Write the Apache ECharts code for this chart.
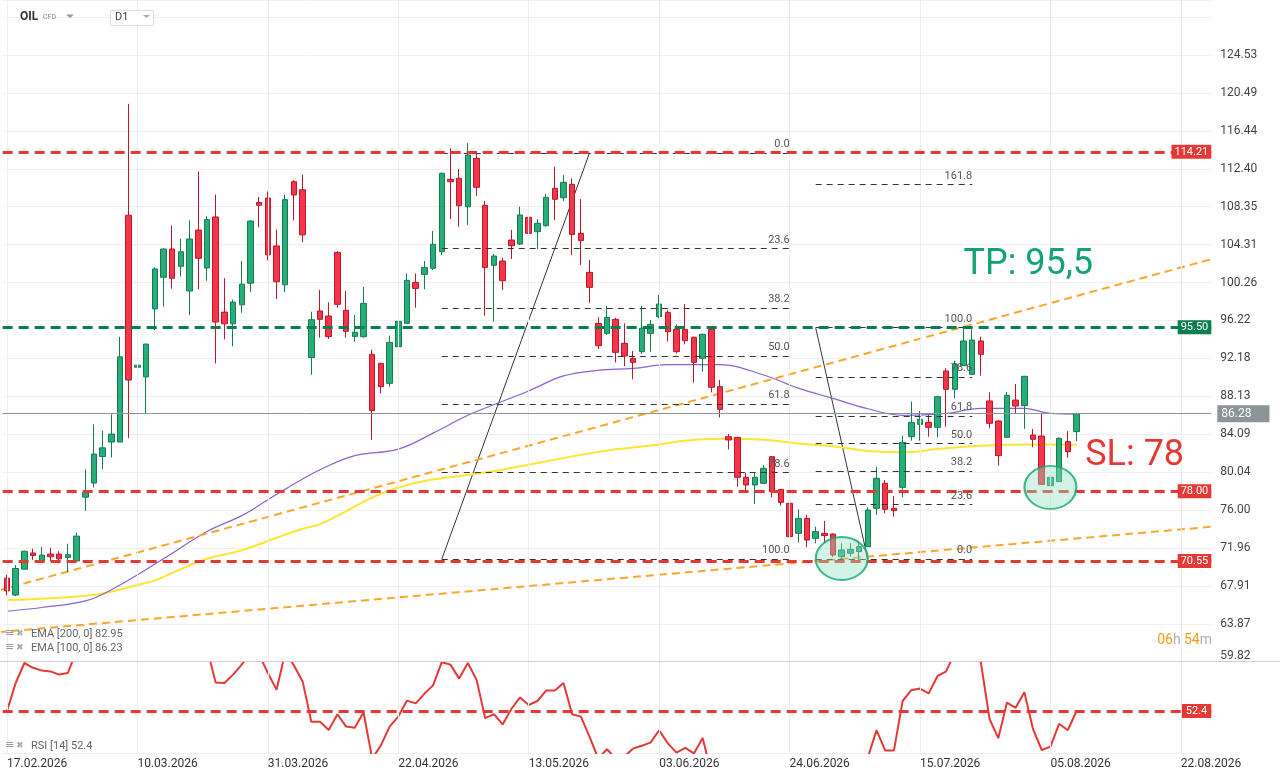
<!DOCTYPE html>
<html><head><meta charset="utf-8">
<script src="https://cdn.jsdelivr.net/npm/echarts@6/dist/echarts.min.js"></script>
<style>html,body{margin:0;padding:0;background:#fff;}#c{width:1280px;height:779px;}</style>
</head><body><div id="c"></div>
<script>
// ---------- DATA ----------
// candles: [open, close, low, high]
const ohlc = [
[68.73,67.37,66.89,69.10],[66.93,69.76,66.82,70.13],[69.69,71.60,69.69,71.67],[71.42,71.16,70.68,71.86],
[70.57,71.19,70.50,72.04],[71.30,71.01,70.57,71.97],[71.30,70.79,70.31,71.60],[70.94,71.23,69.39,72.41],
[70.57,73.22,70.50,73.58],[77.37,77.85,75.90,80.31],[78.88,81.97,78.40,85.13],[81.71,82.63,80.35,84.47],
[83.25,84.10,81.60,86.20],[83.25,92.34,83.25,94.47],[107.44,89.87,83.66,119.32],[91.23,91.45,81.23,95.02],
[90.20,93.70,86.31,93.70],[97.45,101.71,95.20,101.90],[100.83,103.84,97.70,103.90],[103.84,100.72,99.61,106.34],
[102.00,103.55,100.90,104.95],[99.36,104.91,96.78,106.89],[105.86,102.85,99.54,112.11],[101.82,106.97,100.46,107.34],
[107.26,96.05,91.64,109.65],[97.11,95.86,94.21,100.72],[95.86,98.18,93.47,98.44],[97.89,100.09,97.04,102.55],
[100.20,106.82,99.25,106.90],[108.80,108.51,106.16,109.39],[109.28,103.22,102.63,109.98],[104.17,100.35,98.51,105.90],
[100.02,109.10,99.25,109.65],[111.01,109.61,106.89,111.19],[110.16,105.35,104.58,111.78],[92.26,96.30,90.42,97.15],
[97.23,96.34,94.38,99.47],[96.69,94.49,94.24,98.15],[103.48,97.94,97.58,103.60],[97.30,95.06,94.38,99.36],
[94.52,94.95,93.96,96.80],[94.49,98.04,94.38,99.79],[92.60,86.60,83.47,93.07],[91.64,89.16,88.44,91.70],
[89.51,93.88,89.16,94.60],[93.42,96.12,91.40,96.69],[95.91,100.50,95.90,101.24],[100.28,99.64,97.58,101.24],
[101.14,101.88,99.54,102.56],[101.78,104.34,101.60,105.76],[103.55,111.91,103.20,112.00],[111.27,111.02,107.04,114.58],
[111.38,108.46,106.22,112.37],[108.35,113.87,106.40,115.14],[113.51,110.42,109.49,114.29],[108.50,101.88,96.73,108.96],
[102.10,103.09,96.09,103.31],[102.56,100.46,99.47,102.91],[104.80,104.19,102.77,105.87],[104.37,107.47,104.27,108.35],
[107.22,105.51,105.23,108.18],[105.69,106.58,103.84,107.04],[106.33,109.35,106.22,109.71],[110.31,109.14,106.93,112.62],
[109.31,110.95,108.96,111.73],[110.74,105.40,103.20,111.38],[105.51,104.73,102.13,109.17],[101.35,99.75,98.11,102.67],
[95.91,93.53,93.17,96.55],[94.84,96.55,94.67,97.76],[96.34,92.82,91.75,96.50],[93.78,92.43,91.36,95.91],
[92.18,91.75,89.94,92.96],[92.89,95.38,92.64,97.76],[94.84,95.80,92.89,96.27],[96.62,97.97,96.44,98.93],
[97.08,95.02,93.96,97.33],[95.27,92.89,92.71,95.80],[95.27,94.06,93.67,97.97],[94.42,91.75,89.58,94.50],
[92.18,94.74,90.76,94.80],[95.27,89.09,88.55,95.56],[89.16,86.74,85.88,89.87],[83.82,83.47,82.47,84.11],
[83.75,79.49,78.49,83.80],[79.49,78.67,77.96,79.98],[78.67,79.49,76.64,79.98],[78.85,80.45,78.78,80.80],
[81.69,77.96,77.35,81.76],[78.20,76.82,76.46,78.25],[76.71,73.16,73.10,76.89],[73.51,75.11,72.52,76.07],
[75.11,72.80,72.02,75.47],[72.98,73.69,72.45,74.22],[73.51,73.27,72.45,74.83],[73.44,71.20,71.00,73.50],
[71.02,71.73,70.31,72.45],[71.38,71.80,71.02,72.45],[71.56,72.09,70.67,72.60],[72.09,76.00,72.09,76.29],
[76.18,79.38,75.47,80.62],[78.85,76.07,75.65,79.20],[76.18,75.93,75.29,77.50],[78.42,83.22,77.35,83.93],
[83.82,85.35,83.40,87.56],[85.14,85.67,83.40,86.56],[85.35,84.82,83.82,86.13],[84.82,88.09,83.75,88.20],
[90.83,88.87,84.89,91.11],[88.87,91.54,87.91,91.90],[91.40,94.03,91.40,95.38],[90.47,94.13,90.47,95.27],
[94.03,92.61,90.33,94.49],[87.63,85.25,84.71,88.55],[85.49,81.80,80.73,85.60],[83.75,88.23,83.75,88.59],
[87.73,87.09,86.31,89.44],[87.13,90.26,84.64,90.30],[84.00,83.54,82.69,84.64],[83.89,78.74,78.74,86.31],
[78.60,79.49,78.24,80.87],[79.03,83.65,79.03,83.75],[83.29,82.22,81.58,84.43],[84.36,86.28,83.36,86.38]
];
const rsi = [
52.4,59.4,64.4,63.2,62.5,62.3,61.5,61.9,67.5,69,73,74,76,82,70,70,72,76,78,73,74,76,71,68,
59.55,59.4,61.5,64.0,67,66.5,61.9,57.7,67,63.8,59.8,49.7,49.7,47.65,51.6,48.5,48.2,52.1,40.5,43.8,
48.5,51.0,55.0,54.3,56.7,58.8,64.6,64.0,60.5,64.4,60.2,50.6,51.6,49.05,52.9,55.8,53.9,54.9,57.5,57.5,
59.4,51.6,51.0,45.95,40.5,42.85,40.5,41.0,43.0,43.7,44.5,47.6,44.3,42.0,43.2,41.8,45.65,37,35,32,
28,27,29,31,27,26,23,27,24,26,26,24,26,27,29,40.8,47.6,42.5,42.5,54.9,57.6,58.0,56.8,61.1,
62.3,67,68.5,68,64.5,50.4,45.6,54.5,53.2,57.1,47.85,42.65,43.5,49.2,47.6,52.4
];
const ema100 = [[0,65.2],[4,65.6],[9,66.3],[12,67.5],[18,70.8],[23,73.7],[27,75.4],[30,77.1],[34,79.3],[36,80.3],
[40,81.8],[45,82.5],[49,84.2],[53,86.1],[57,87.6],[60,88.7],[64,90.3],[68,90.9],[72,91.1],[76,91.5],[82,91.5],
[87,90.4],[91,89.0],[95,87.9],[99,86.8],[103,86.1],[108,86.3],[112,86.85],[117,86.85],[120,86.3],[123,86.23]];
const ema200 = [[0,66.4],[7,66.7],[11,67.1],[15,68.0],[17,68.5],[19,69.3],[23,70.8],[27,71.7],[30,72.7],[34,74.0],
[36,74.5],[45,78.4],[57,80.3],[68,82.2],[75,83.0],[78,83.4],[82,83.6],[87,83.5],[91,83.1],[95,82.8],[99,82.3],
[103,82.15],[107,82.5],[111,82.8],[115,82.95],[119,83.0],[123,82.95]];
const xTickLabels = ['17.02.2026','10.03.2026','31.03.2026','22.04.2026','13.05.2026','03.06.2026','24.06.2026','15.07.2026','05.08.2026','22.08.2026'];
const priceTicks = [59.82,63.87,67.91,71.96,76.00,80.04,84.09,88.13,92.18,96.22,100.26,104.31,108.35,112.40,116.44,120.49,124.53];
const levelValues = [114.21, 95.50, 78.00, 70.55];
const lastPrice = 86.28;
const rsiLevel = 52.4;
const trendUpper = [[-1,67.41],[139,102.88]];
const trendLower = [[-1,62.97],[139,74.25]];
const fibRatios1 = [0, 23.6, 38.2, 50, 61.8, 78.6, 100];
const fib1 = {start:50, end:90, high:114.1, low:70.75, diag:[[50,70.75],[67,114.1]]};
const fibRatios2 = [0, 23.6, 38.2, 50, 61.8, 78.6, 100, 161.8];
const fib2 = {start:93, end:111, high:95.45, low:70.75, diag:[[93,95.45],[99,70.75]]};
const ellipses = [[96,70.83],[120,78.42]];
const noteTexts = ['TP: 95,5', 'SL: 78'];
const notePoints = [[110,102.13],[124,81.76]];
const N = 139;

// ---------- CHART ----------
const categories = Array.from({length:N},(_,i)=>String(i));
const tickIdx = xTickLabels.map((_,k)=>k*15);
const RED = '#e53935', GREEN = '#0b7d50';
const levelColors = [RED, GREEN, RED, RED];
const noteColors = ['#12a470', '#e53935'];
const chart = echarts.init(document.getElementById('c'));
const FONT = 'Roboto';

const fibLines = (f, ratios, topIsZero) => ratios.map(r => {
  const p = topIsZero ? f.high - (f.high - f.low) * r / 100 : f.low + (f.high - f.low) * r / 100;
  return [{coord:[f.start,p], name:r.toFixed(1)},{coord:[f.end,p]}];
});
const fibMark = (f, ratios, topIsZero) => ({
  silent:true, symbol:'none', animation:false,
  lineStyle:{color:'#333', width:1, type:[6,5]},
  label:{show:true, position:'insideEndTop', formatter:'{b}', color:'#555', fontSize:11, distance:[0,3], fontFamily:FONT},
  data: fibLines(f, ratios, topIsZero)
});

const option = {
  animation:false,
  textStyle:{fontFamily:FONT},
  grid:[
    {left:2.65, right:68.7, top:0, bottom:117.3, outerBoundsMode:'none'},
    {left:2.65, right:68.7, top:662, bottom:26, outerBoundsMode:'none'}
  ],
  xAxis:[
    {type:'category', gridIndex:0, data:categories, boundaryGap:true,
     axisLine:{show:false}, axisTick:{show:false}, axisLabel:{show:false}, splitLine:{show:false}},
    {type:'category', gridIndex:1, data:categories, boundaryGap:true,
     axisLine:{show:true, lineStyle:{color:'#eeeeee'}}, axisTick:{show:false}, splitLine:{show:false},
     axisLabel:{show:true, interval:(i)=>i%15===0, align:'left', margin:5, color:'#333', fontSize:12,
       formatter:(v,i)=>xTickLabels[Math.round(Number(v)/15)] || ''}}
  ],
  yAxis:[
    {type:'value', gridIndex:0, position:'right', min:59.82, max:130.40, interval:4.044, scale:true,
     axisLine:{show:false}, axisTick:{show:false},
     splitLine:{show:true, lineStyle:{color:'#f0f0f0', width:1}},
     axisLabel:{show:true, margin:9, color:'#444', fontSize:12, showMaxLabel:false,
       rich:{low:{color:'#444', fontSize:12, padding:[0,0,11,0]}},
       formatter:(v)=>{const t = priceTicks.find(p=>Math.abs(p-v)<0.1);
         if (t===undefined) return ''; return t===priceTicks[0] ? '{low|'+t.toFixed(2)+'}' : t.toFixed(2);}}},
    {type:'value', gridIndex:1, position:'right', min:41.9, max:64.65,
     axisLine:{show:false}, axisTick:{show:false}, splitLine:{show:false}, axisLabel:{show:false}}
  ],
  series:[
    {type:'line', name:'vgrid', xAxisIndex:0, yAxisIndex:0, data:[], z:0, silent:true,
     markLine:{silent:true, symbol:'none', animation:false, label:{show:false},
       lineStyle:{color:'#eeeeee', width:1, type:'solid'}, data:tickIdx.map(i=>({xAxis:i}))}},
    {type:'line', name:'vgrid2', xAxisIndex:1, yAxisIndex:1, data:[], z:0, silent:true,
     markLine:{silent:true, symbol:'none', animation:false, label:{show:false},
       lineStyle:{color:'#eeeeee', width:1, type:'solid'}, data:tickIdx.map(i=>({xAxis:i}))}},
    {type:'line', name:'fib1', data:fib1.diag, symbol:'none', z:1, silent:true,
     lineStyle:{color:'#333', width:1}, markLine:fibMark(fib1, fibRatios1, true)},
    {type:'line', name:'fib2', data:fib2.diag, symbol:'none', z:1, silent:true,
     lineStyle:{color:'#333', width:1}, markLine:fibMark(fib2, fibRatios2, false)},
    {type:'line', name:'EMA200', data:ema200, symbol:'none', smooth:0.4, z:2,
     lineStyle:{color:'#ffe531', width:2}},
    {type:'line', name:'EMA100', data:ema100, symbol:'none', smooth:0.4, z:2,
     lineStyle:{color:'#8a62d0', width:1.2}},
    {type:'line', name:'trendUp', data:trendUpper, symbol:'none', z:2, lineStyle:{color:'#ffa52b', width:2, type:[8,5]}},
    {type:'line', name:'trendLow', data:trendLower, symbol:'none', z:2, lineStyle:{color:'#ffa52b', width:2, type:[8,5]}},
    {type:'candlestick', name:'OIL', data:ohlc, barWidth:6, z:3,
     itemStyle:{color:'#26ad7a', color0:'#f6344a', borderColor:'#177b50', borderColor0:'#b8192c', borderWidth:1},
     markLine:{silent:true, symbol:'none', animation:false,
       data: levelValues.map((v,k)=>({yAxis:v,
         lineStyle:{color:levelColors[k], width:3, type:[10,6]},
         label:{show:true, position:'insideEnd', distance:0, formatter:v.toFixed(2), color:'#fff', fontSize:11,
           backgroundColor:levelColors[k], padding:[2,3,1,3], fontFamily:FONT}})).concat([
         {yAxis:lastPrice, lineStyle:{color:'#8b9598', width:1, type:'solid'},
          label:{show:true, position:'end', distance:6, formatter:lastPrice.toFixed(2), color:'#fff', fontSize:12,
           backgroundColor:'#8b9598', padding:[3,18,2,4], fontFamily:FONT}}])}},
    {type:'scatter', name:'zones', data:ellipses, symbol:'circle', symbolSize:[52,43], z:10, silent:true,
     itemStyle:{color:'rgba(145,225,193,0.5)', borderColor:'#14a870', borderWidth:2}},
    {type:'scatter', name:'notes', symbolSize:0, z:11, silent:true,
     itemStyle:{opacity:1},
     data: notePoints.map((p,k)=>({value:p, name:noteTexts[k],
       label:{show:true, position:'right', distance:0, formatter:'{b}', fontSize:36, fontFamily:FONT,
         color:noteColors[k], opacity:1, textBorderWidth:0}}))},
    {type:'line', name:'RSI', xAxisIndex:1, yAxisIndex:1, data:rsi, symbol:'none', z:3, clip:true,
     lineStyle:{color:'#e53935', width:2},
     markLine:{silent:true, symbol:'none', animation:false,
       data:[{yAxis:rsiLevel, lineStyle:{color:RED, width:3, type:[10,6]},
         label:{show:true, position:'insideEnd', distance:0, formatter:String(rsiLevel), color:'#fff', fontSize:11,
           backgroundColor:RED, padding:[2,4,1,4], fontFamily:FONT}}]}}
  ],
  graphic:[
    {type:'line', shape:{x1:0, y1:661.5, x2:1280, y2:661.5}, style:{stroke:'#d0d0d0', lineWidth:1}, z:20},
    {type:'text', left:20, top:11, style:{text:'OIL', font:'bold 12px Roboto', fill:'#333'}, z:20},
    {type:'text', left:43, top:14, style:{text:'CFD', font:'7px Roboto', fill:'#888'}, z:20},
    {type:'polygon', shape:{points:[[66,14.5],[74,14.5],[70,18]]}, style:{fill:'#999'}, z:20},
    {type:'rect', shape:{x:110.5, y:10.5, width:43, height:15}, style:{fill:'#fff', stroke:'#dddddd', lineWidth:1}, z:20},
    {type:'text', left:115, top:12, style:{text:'D1', font:'11px Roboto', fill:'#444'}, z:21},
    {type:'polygon', shape:{points:[[143,15],[150,15],[146.5,18]]}, style:{fill:'#aaa'}, z:21},
    {type:'text', left:5, top:628, style:{text:'≡', font:'11px DejaVu Sans', fill:'#999'}, z:20},
    {type:'text', left:16, top:629, style:{text:'✖', font:'9px DejaVu Sans', fill:'#aaa'}, z:20},
    {type:'text', left:31, top:629, style:{text:'EMA [200, 0] 82.95', font:'11px Roboto', fill:'#666'}, z:20},
    {type:'text', left:5, top:642, style:{text:'≡', font:'11px DejaVu Sans', fill:'#999'}, z:20},
    {type:'text', left:16, top:643, style:{text:'✖', font:'9px DejaVu Sans', fill:'#aaa'}, z:20},
    {type:'text', left:31, top:643, style:{text:'EMA [100, 0] 86.23', font:'11px Roboto', fill:'#666'}, z:20},
    {type:'text', left:5, top:740, style:{text:'≡', font:'11px DejaVu Sans', fill:'#999'}, z:20},
    {type:'text', left:16, top:741, style:{text:'✖', font:'9px DejaVu Sans', fill:'#aaa'}, z:20},
    {type:'text', left:31, top:741, style:{text:'RSI [14] 52.4', font:'11px Roboto', fill:'#666'}, z:20},
    {type:'text', right:68, top:633, z:20, style:{text:'{o|06}{g|h} {o|54}{g|m}',
      rich:{o:{fill:'#ff9a1a', font:'14px Roboto'}, g:{fill:'#b0b0b0', font:'14px Roboto'}}}}
  ]
};
chart.setOption(option);
</script></body></html>
